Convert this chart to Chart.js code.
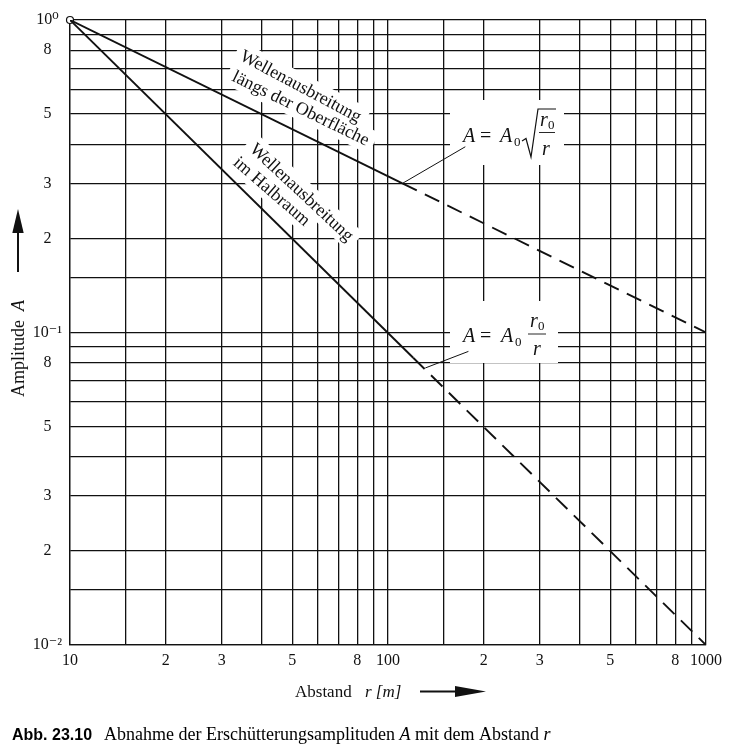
<!DOCTYPE html>
<html><head><meta charset="utf-8">
<script src="https://cdn.jsdelivr.net/npm/chart.js@4/dist/chart.umd.min.js"></script>
<style>html,body{margin:0;padding:0;background:#fff;}#wrap{width:741px;height:754px;position:relative;}</style>
</head><body><div id="wrap"><canvas id="c" width="741" height="754"></canvas></div>
<script>
// ---- data ----
const xGridValues = [10,15,20,30,40,50,60,70,80,90,100,150,200,300,400,500,600,700,800,900,1000];
const xTickLabels = {10:'10',20:'2',30:'3',50:'5',80:'8',100:'100',200:'2',300:'3',500:'5',800:'8',1000:'1000'};
const yGridValues = [0.01,0.015,0.02,0.03,0.04,0.05,0.06,0.07,0.08,0.09,0.1,0.15,0.2,0.3,0.4,0.5,0.6,0.7,0.8,0.9,1];
const yTickLabels = {'1':'10⁰','0.8':'8','0.5':'5','0.3':'3','0.2':'2','0.1':'10⁻¹','0.08':'8','0.05':'5','0.03':'3','0.02':'2','0.01':'10⁻²'};

const surfaceSolidR = [10, 111];
const surfaceSolidA = [1, 0.3];
const surfaceDashedR = [111, 1000];
const surfaceDashedA = [0.3, 0.1];
const halfSolidR = [10, 120];
const halfSolidA = [1, 0.083];
const halfDashedR = [120, 1000];
const halfDashedA = [0.083, 0.01];
const leaderSurfaceR = [111, 175];
const leaderSurfaceA = [0.3, 0.393];
const leaderHalfR = [131, 179];
const leaderHalfA = [0.077, 0.087];
const originR = [10];
const originA = [1];

const SERIF = '"Liberation Serif", "Times New Roman", "DejaVu Serif", serif';
const zip = (xs, ys) => xs.map((x, i) => ({x, y: ys[i]}));

const rotLabels = [
  {t: 'Wellenausbreitung', x: 301, y: 86, a: 28},
  {t: 'längs der Oberfläche', x: 301, y: 108, a: 26},
  {t: 'Wellenausbreitung', x: 302, y: 192, a: 43},
  {t: 'im Halbraum', x: 272, y: 191, a: 41}
];

const decor = {
  id: 'decor',
  beforeDatasetsDraw(chart) {
    const ctx = chart.ctx;
    ctx.save();
    ctx.fillStyle = '#fff';
    ctx.fillRect(450, 100, 114, 65);
    ctx.fillRect(450, 301, 108, 62);
    ctx.font = '18px ' + SERIF;
    for (const l of rotLabels) {
      const w = ctx.measureText(l.t).width;
      ctx.save();
      ctx.translate(l.x, l.y);
      ctx.rotate(l.a * Math.PI / 180);
      ctx.fillRect(-w / 2 - 6, -12, w + 12, 24);
      ctx.restore();
    }
    ctx.restore();
  },
  afterDatasetsDraw(chart) {
    const ctx = chart.ctx;
    ctx.save();
    ctx.fillStyle = '#111';
    ctx.font = '18px ' + SERIF;
    ctx.textAlign = 'center';
    ctx.textBaseline = 'middle';
    for (const l of rotLabels) {
      ctx.save();
      ctx.translate(l.x, l.y);
      ctx.rotate(l.a * Math.PI / 180);
      ctx.fillText(l.t, 0, 1);
      ctx.restore();
    }
    ctx.textAlign = 'left';
    ctx.textBaseline = 'alphabetic';
    const itF = 'italic 20px ' + SERIF, rgF = '20px ' + SERIF, subF = '13px ' + SERIF;
    // equation 1
    ctx.font = itF; ctx.fillText('A', 463, 142);
    ctx.font = rgF; ctx.fillText('=', 480, 142);
    ctx.font = itF; ctx.fillText('A', 500, 142);
    ctx.font = subF; ctx.fillText('0', 514, 146);
    ctx.strokeStyle = '#111'; ctx.lineWidth = 1.2;
    ctx.beginPath();
    ctx.moveTo(522, 141); ctx.lineTo(526, 138.5); ctx.lineTo(531, 157); ctx.lineTo(538, 109); ctx.lineTo(556, 109);
    ctx.stroke();
    ctx.font = itF; ctx.fillText('r', 540, 126);
    ctx.font = subF; ctx.fillText('0', 548, 129);
    ctx.beginPath(); ctx.lineWidth = 0.9; ctx.moveTo(539, 132.5); ctx.lineTo(555, 132.5); ctx.stroke();
    ctx.font = itF; ctx.fillText('r', 542, 155);
    // equation 2
    ctx.font = itF; ctx.fillText('A', 463, 342);
    ctx.font = rgF; ctx.fillText('=', 480, 342);
    ctx.font = itF; ctx.fillText('A', 501, 342);
    ctx.font = subF; ctx.fillText('0', 515, 346);
    ctx.font = itF; ctx.fillText('r', 530, 327);
    ctx.font = subF; ctx.fillText('0', 538, 330);
    ctx.beginPath(); ctx.lineWidth = 0.9; ctx.moveTo(528, 334); ctx.lineTo(546, 334); ctx.stroke();
    ctx.font = itF; ctx.fillText('r', 533, 355);
    ctx.restore();
  },
  afterDraw(chart) {
    const ctx = chart.ctx;
    ctx.save();
    ctx.fillStyle = '#111';
    ctx.strokeStyle = '#111';
    // y axis title
    ctx.save();
    ctx.translate(24, 397);
    ctx.rotate(-Math.PI / 2);
    ctx.font = '18px ' + SERIF;
    ctx.fillText('Amplitude', 0, 0);
    const w = ctx.measureText('Amplitude').width;
    ctx.font = 'italic 18px ' + SERIF;
    ctx.fillText('A', w + 9, 0);
    ctx.restore();
    // y arrow
    ctx.lineWidth = 2;
    ctx.beginPath(); ctx.moveTo(18, 272); ctx.lineTo(18, 228); ctx.stroke();
    ctx.beginPath(); ctx.moveTo(18, 209); ctx.lineTo(12.3, 233); ctx.lineTo(23.7, 233); ctx.closePath(); ctx.fill();
    // x axis title
    ctx.font = '17px ' + SERIF;
    ctx.fillText('Abstand', 295, 697);
    ctx.font = 'italic 17px ' + SERIF;
    ctx.fillText('r [m]', 365, 697);
    ctx.beginPath(); ctx.moveTo(420, 691.5); ctx.lineTo(458, 691.5); ctx.stroke();
    ctx.beginPath(); ctx.moveTo(486, 691.5); ctx.lineTo(455, 686); ctx.lineTo(455, 697); ctx.closePath(); ctx.fill();
    // caption
    ctx.fillStyle = '#000';
    ctx.font = 'bold 16px "Liberation Sans", Arial, sans-serif';
    ctx.fillText('Abb. 23.10', 12, 740);
    let x = 104;
    const parts = [['Abnahme der Erschütterungsamplituden ', false], ['A', true], [' mit dem Abstand ', false], ['r', true]];
    for (const [t, itl] of parts) {
      ctx.font = (itl ? 'italic ' : '') + '18px ' + SERIF;
      ctx.fillText(t, x, 740);
      x += ctx.measureText(t).width;
    }
    ctx.restore();
  }
};

const lineDs = (data, opts) => Object.assign({
  data, borderColor: '#111', borderWidth: 1.9, pointRadius: 0, fill: false, tension: 0
}, opts);

new Chart(document.getElementById('c'), {
  type: 'line',
  data: {
    datasets: [
      lineDs(zip(surfaceSolidR, surfaceSolidA), {}),
      lineDs(zip(surfaceDashedR, surfaceDashedA), {borderDash: [16, 9]}),
      lineDs(zip(halfSolidR, halfSolidA), {}),
      lineDs(zip(halfDashedR, halfDashedA), {borderDash: [16, 9]}),
      lineDs(zip(leaderSurfaceR, leaderSurfaceA), {borderWidth: 1}),
      lineDs(zip(leaderHalfR, leaderHalfA), {borderWidth: 1}),
      lineDs(zip(originR, originA), {pointRadius: 3.5, pointBackgroundColor: '#fff', pointBorderColor: '#111', pointBorderWidth: 1.2, clip: false})
    ]
  },
  options: {
    responsive: false,
    animation: false,
    devicePixelRatio: 1,
    layout: {padding: {left: 0, right: 35, top: 20, bottom: 79}},
    plugins: {legend: {display: false}, tooltip: {enabled: false}},
    scales: {
      x: {
        type: 'logarithmic', min: 10, max: 1000,
        afterBuildTicks: s => { s.ticks = xGridValues.map(v => ({value: v})); },
        afterFit: s => { s.height = 30; },
        grid: {color: '#111', lineWidth: 1.3, drawTicks: false},
        border: {color: '#111', width: 1.3},
        ticks: {autoSkip: false, maxRotation: 0, padding: 6, color: '#111',
          font: {family: SERIF, size: 16},
          callback: v => xTickLabels[v] ?? ''}
      },
      y: {
        type: 'logarithmic', min: 0.01, max: 1,
        afterBuildTicks: s => { s.ticks = yGridValues.map(v => ({value: v})); },
        afterFit: s => { s.width = 70; },
        grid: {color: '#111', lineWidth: 1.3, drawTicks: false},
        border: {color: '#111', width: 1.3},
        ticks: {autoSkip: false, crossAlign: 'center', padding: 8, color: '#111',
          font: {family: SERIF, size: 16},
          callback: v => yTickLabels[String(v)] ?? ''}
      }
    }
  },
  plugins: [decor]
});
</script></body></html>
